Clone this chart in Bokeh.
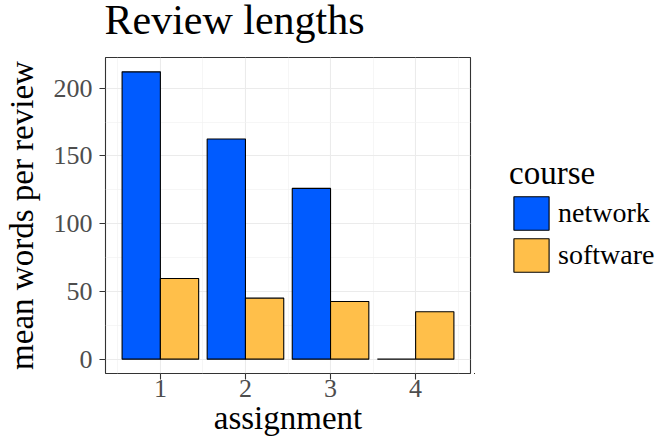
from bokeh.plotting import figure
from bokeh.layouts import column, row
from bokeh.models import (Range1d, FixedTicker, Legend, LegendItem, ColumnDataSource, Label)
from bokeh.transform import dodge
from bokeh.embed import file_html
from bokeh.resources import INLINE

# ---- data ----
assignments = [1, 2, 3, 4]
network = [212.0, 162.5, 126.0, 0.0]
software = [59.5, 45.0, 42.5, 35.0]
courses = ["network", "software"]
course_colors = ["#005BFF", "#FFBF4A"]
y_ticks = [0, 50, 100, 150, 200]
y_minor = [25, 75, 125, 175]
x_minor = [0.5, 1.5, 2.5, 3.5, 4.5]
title_text = "Review lengths"

FONT = "Liberation Serif"

# ---- layout sizes (px) ----
TOTAL_W, TOTAL_H = 658, 443
TITLE_H = 47
MAIN_W = 474
MAIN_H = TOTAL_H - TITLE_H
LEG_W = TOTAL_W - MAIN_W
FRAME_TOP, FRAME_BOTTOM = 57, 373

# ---- title strip ----
tf = figure(frame_width=TOTAL_W, frame_height=TITLE_H, x_range=Range1d(0, TOTAL_W),
            y_range=Range1d(0, TITLE_H), x_axis_type=None, y_axis_type=None,
            title=None, output_backend="svg", toolbar_location=None, min_border=0)
tf.outline_line_color = None
tf.grid.visible = False
tf.add_layout(Label(x=104, y=TITLE_H - 19, text=title_text, text_font=FONT,
                    text_font_size="42px", text_color="black",
                    text_baseline="alphabetic", text_align="left"))

# ---- main plot ----
src = ColumnDataSource(dict(x=assignments, network=network, software=software))
ymax = max(network + software)
p = figure(width=MAIN_W, height=MAIN_H,
           x_range=Range1d(0.355, 4.645),
           y_range=Range1d(-0.05 * ymax, 1.05 * ymax),
           output_backend="svg", toolbar_location=None, title=None,
           min_border_left=104, min_border_right=MAIN_W - 470,
           min_border_top=FRAME_TOP - TITLE_H,
           min_border_bottom=TOTAL_H - FRAME_BOTTOM)
p.background_fill_color = "white"
p.border_fill_color = "white"
p.outline_line_color = "#333333"
p.outline_line_width = 1.1

bw = 0.45
r1 = p.vbar(x=dodge("x", -bw / 2), top="network", bottom=0, width=bw, source=src,
            fill_color=course_colors[0], line_color="black", line_width=1.1)
r2 = p.vbar(x=dodge("x", bw / 2), top="software", bottom=0, width=bw, source=src,
            fill_color=course_colors[1], line_color="black", line_width=1.1)

p.xaxis.ticker = FixedTicker(ticks=assignments, minor_ticks=x_minor)
p.yaxis.ticker = FixedTicker(ticks=y_ticks, minor_ticks=y_minor)
for ax in (p.xaxis[0], p.yaxis[0]):
    ax.axis_line_color = None
    ax.major_tick_line_color = "#333333"
    ax.major_tick_line_width = 1.1
    ax.major_tick_out = 6
    ax.major_tick_in = 0
    ax.minor_tick_line_color = None
    ax.major_label_text_font = FONT
    ax.major_label_text_font_size = "26px"
    ax.major_label_text_color = "#4D4D4D"
    ax.axis_label_text_font = FONT
    ax.axis_label_text_font_size = "33px"
    ax.axis_label_text_font_style = "normal"
    ax.axis_label_text_color = "black"
p.xaxis.axis_label = "assignment"
p.yaxis.axis_label = "mean words per review"
p.xaxis.major_label_standoff = 0
p.xaxis.axis_label_standoff = 0
p.yaxis.major_label_standoff = 7
p.yaxis.axis_label_standoff = 11

for g in (p.xgrid[0], p.ygrid[0]):
    g.grid_line_color = "#EBEBEB"
    g.grid_line_width = 1.1
    g.minor_grid_line_color = "#F2F2F2"
    g.minor_grid_line_width = 0.7

# ---- legend strip (its frame is aligned with the main frame by the row) ----
lf = figure(width=LEG_W, height=MAIN_H, x_range=Range1d(100, 101), y_range=Range1d(1000, 1001),
            x_axis_type=None, y_axis_type=None, output_backend="svg", title=None,
            toolbar_location=None, min_border=0)
lf.outline_line_color = None
lf.grid.visible = False
k1 = lf.vbar(x=dodge("x", -bw / 2), top="network", bottom=0, width=bw, source=src,
             fill_color=course_colors[0], line_color="black", line_width=1.1)
k2 = lf.vbar(x=dodge("x", bw / 2), top="software", bottom=0, width=bw, source=src,
             fill_color=course_colors[1], line_color="black", line_width=1.1)
PAD = 4
GW, GH = 44, 42  # legend keys are drawn inset by 10% on each side
legend = Legend(items=[LegendItem(label=courses[0], renderers=[k1]),
                       LegendItem(label=courses[1], renderers=[k2])],
                title="course", orientation="vertical",
                location=(round(517 - MAIN_W - PAD - GW * 0.1),
                          FRAME_BOTTOM - 272 - PAD))
legend.border_line_color = None
legend.background_fill_alpha = 0
legend.padding = PAD
legend.margin = 0
legend.spacing = 0
legend.glyph_width = GW
legend.glyph_height = GH
legend.label_standoff = 5
legend.label_height = 35
legend.label_text_font = FONT
legend.label_text_font_size = "28px"
legend.label_text_color = "black"
legend.title_text_font = FONT
legend.title_text_font_size = "33px"
legend.title_text_font_style = "normal"
legend.title_text_color = "black"
legend.title_standoff = 0
lf.add_layout(legend, "center")

layout = column(tf, row(p, lf))
open("out.html", "w").write(file_html(layout, INLINE))
